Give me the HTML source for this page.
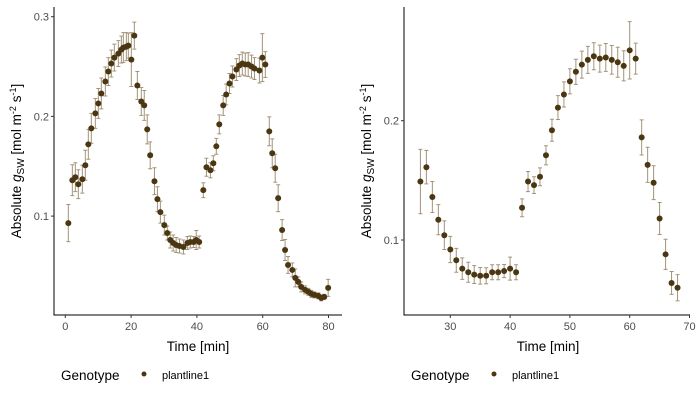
<!DOCTYPE html>
<html><head><meta charset="utf-8"><style>
html,body{margin:0;padding:0;background:#fff;}
svg{display:block;font-family:"Liberation Sans",Arial,sans-serif;}
</style></head><body>
<svg id="chart" width="700" height="400" viewBox="0 0 700 400">
<g id="left"></g>
<g id="right"></g>
</svg>
<script>
const leftTimes=[0.92,2.14,3.05,3.96,5.18,6.09,7.0,7.91,9.13,10.04,10.95,12.17,13.08,13.99,14.9,16.12,17.03,17.64,18.55,19.16,20.07,20.98,21.9,23.1,24.0,24.9,25.8,27.1,28.0,28.9,30.1,31.0,31.9,32.8,33.7,34.7,35.9,37.1,38.0,39.0,39.8,40.7,41.95,42.9,44.1,45.0,45.9,46.8,48.0,48.9,49.9,50.8,52.0,52.9,53.8,54.7,55.6,56.6,57.5,59.0,59.9,60.8,62.0,62.9,63.8,64.7,65.9,66.8,67.7,69.0,69.9,70.8,71.7,72.9,73.9,74.8,75.7,76.9,77.8,78.7,79.9];
const leftValues=[0.093,0.136,0.139,0.132,0.137,0.151,0.172,0.188,0.203,0.213,0.223,0.235,0.245,0.253,0.259,0.263,0.267,0.269,0.270,0.271,0.257,0.281,0.231,0.215,0.211,0.187,0.161,0.135,0.117,0.104,0.091,0.083,0.076,0.073,0.071,0.070,0.069,0.073,0.074,0.074,0.076,0.074,0.126,0.149,0.146,0.153,0.170,0.192,0.211,0.222,0.233,0.240,0.247,0.251,0.253,0.252,0.252,0.250,0.248,0.246,0.259,0.252,0.185,0.163,0.148,0.118,0.086,0.066,0.051,0.046,0.038,0.034,0.029,0.026,0.024,0.022,0.021,0.020,0.018,0.019,0.028];
const leftErrors=[0.0186,0.0155,0.0145,0.0145,0.014,0.015,0.015,0.015,0.015,0.015,0.0155,0.0145,0.014,0.0135,0.0135,0.013,0.0135,0.015,0.014,0.0125,0.027,0.0135,0.014,0.014,0.015,0.0145,0.0135,0.0135,0.0125,0.011,0.01,0.007,0.008,0.008,0.0075,0.007,0.007,0.0065,0.006,0.0055,0.0095,0.006,0.0075,0.009,0.0075,0.0075,0.008,0.0095,0.01,0.0105,0.01,0.0105,0.011,0.011,0.0115,0.0115,0.012,0.0115,0.011,0.0125,0.024,0.013,0.0145,0.0145,0.014,0.0135,0.0105,0.0105,0.0085,0.007,0.009,0.005,0.005,0.004,0.0035,0.0035,0.003,0.003,0.003,0.0025,0.0085];
const rightTimes=[25,26,27,28,29,30,31,32,33,34,35,36,37,38,39,40,41,42,43,44,45,46,47,48,49,50,51,52,53,54,55,56,57,58,59,60,61,62,63,64,65,66,67,68];
const rightValues=[0.149,0.161,0.136,0.117,0.104,0.092,0.083,0.076,0.073,0.071,0.070,0.070,0.073,0.073,0.074,0.076,0.073,0.127,0.149,0.146,0.153,0.171,0.192,0.211,0.222,0.233,0.241,0.247,0.251,0.254,0.252,0.253,0.251,0.249,0.246,0.259,0.252,0.186,0.163,0.148,0.118,0.088,0.064,0.060];
const rightErrors=[0.027,0.014,0.013,0.0126,0.012,0.011,0.010,0.009,0.0084,0.0075,0.007,0.0067,0.0063,0.0063,0.0055,0.0096,0.0063,0.0075,0.0084,0.007,0.0075,0.008,0.0092,0.010,0.0105,0.0105,0.0105,0.0113,0.0113,0.0113,0.0113,0.0117,0.012,0.0126,0.0126,0.024,0.013,0.0147,0.0147,0.0142,0.0134,0.0126,0.0096,0.011];
const leftXTicks=[0,20,40,60,80];
const leftYTicks=[0.1,0.2,0.3];
const rightXTicks=[30,40,50,60,70];
const rightYTicks=[0.1,0.2];

const NS="http://www.w3.org/2000/svg";
function mk(tag,attrs,parent){const e=document.createElementNS(NS,tag);for(const k in attrs)e.setAttribute(k,attrs[k]);parent.appendChild(e);return e;}

function panel(g,cfg){
  const xs=t=>cfg.x0px+(t-cfg.x0)*cfg.xk;
  const ys=v=>cfg.y0px-(v-cfg.y0)*cfg.yk;
  // error bars
  cfg.times.forEach((t,i)=>{
    const x=xs(t),v=cfg.values[i],e=cfg.errors[i];
    const y1=ys(v+e),y2=ys(v-e);
    const eb=mk('path',{d:`M${x-2},${y1}H${x+2}M${x},${y1}V${y2}M${x-2},${y2}H${x+2}`,stroke:'#a39479','stroke-width':1,fill:'none'},g);
    
    
  });
  cfg.times.forEach((t,i)=>{
    const c=mk('circle',{cx:xs(t),cy:ys(cfg.values[i]),r:3,fill:'#4b3612'},g);
    
    
  });
  // axes
  const ax=mk('path',{d:`M${cfg.axL},${cfg.axT}V${cfg.axB}H${cfg.axR}`,stroke:'#000','stroke-width':1,fill:'none'},g);
  
  
  cfg.xt.forEach(t=>{
    const x=xs(t);
    mk('line',{x1:x,x2:x,y1:cfg.axB,y2:cfg.axB+3,stroke:'#333'},g);
    const tx=mk('text',{x:x,y:cfg.axB+15,'text-anchor':'middle','font-size':11,fill:'#4d4d4d'},g);
    tx.textContent=t;
    
    
  });
  cfg.yt.forEach(v=>{
    const y=ys(v);
    mk('line',{x1:cfg.axL-3,x2:cfg.axL,y1:y,y2:y,stroke:'#333'},g);
    const tx=mk('text',{x:cfg.axL-5,y:y+4,'text-anchor':'end','font-size':11,fill:'#4d4d4d'},g);
    tx.textContent=v.toFixed(1);
    
    
  });
}

panel(document.getElementById('left'),{times:leftTimes,values:leftValues,errors:leftErrors,xt:leftXTicks,yt:leftYTicks,
  x0:0,x0px:65.3,xk:3.29,y0:0.3,y0px:16.7,yk:997,axL:54,axT:7,axB:315,axR:342});
panel(document.getElementById('right'),{times:rightTimes,values:rightValues,errors:rightErrors,xt:rightXTicks,yt:rightYTicks,
  x0:30,x0px:450.3,xk:5.98,y0:0.2,y0px:120.7,yk:1193,axL:404,axT:7,axB:315,axR:690});
</script>
<svg width="0" height="0" style="position:absolute"></svg>
<script>
(function(){
const svg=document.getElementById('chart');
function add(html){svg.insertAdjacentHTML('beforeend',html);}
add(`<text x="198" y="351" text-anchor="middle" font-size="13.5">Time [min]</text>
<text x="548" y="351" text-anchor="middle" font-size="13.5">Time [min]</text>
<text transform="translate(21,161) rotate(-90)" text-anchor="middle" font-size="13.5">Absolute <tspan font-style="italic">g</tspan><tspan font-size="10" dy="3">SW</tspan><tspan dy="-3"> [mol m</tspan><tspan font-size="9" dy="-5">-2</tspan><tspan dy="5"> s</tspan><tspan font-size="9" dy="-5">-1</tspan><tspan dy="5">]</tspan></text>
<text transform="translate(371,161) rotate(-90)" text-anchor="middle" font-size="13.5">Absolute <tspan font-style="italic">g</tspan><tspan font-size="10" dy="3">SW</tspan><tspan dy="-3"> [mol m</tspan><tspan font-size="9" dy="-5">-2</tspan><tspan dy="5"> s</tspan><tspan font-size="9" dy="-5">-1</tspan><tspan dy="5">]</tspan></text>
<g>
<text x="61" y="380" font-size="13.5">Genotype</text>
<circle cx="144" cy="374" r="2.5" fill="#4b3612"/>
<text x="162" y="379" font-size="11">plantline1</text></g>
<g>
<text x="411" y="380" font-size="13.5">Genotype</text>
<circle cx="494" cy="374" r="2.5" fill="#4b3612"/>
<text x="512" y="379" font-size="11">plantline1</text></g>`);
})();
</script>
</body></html>
